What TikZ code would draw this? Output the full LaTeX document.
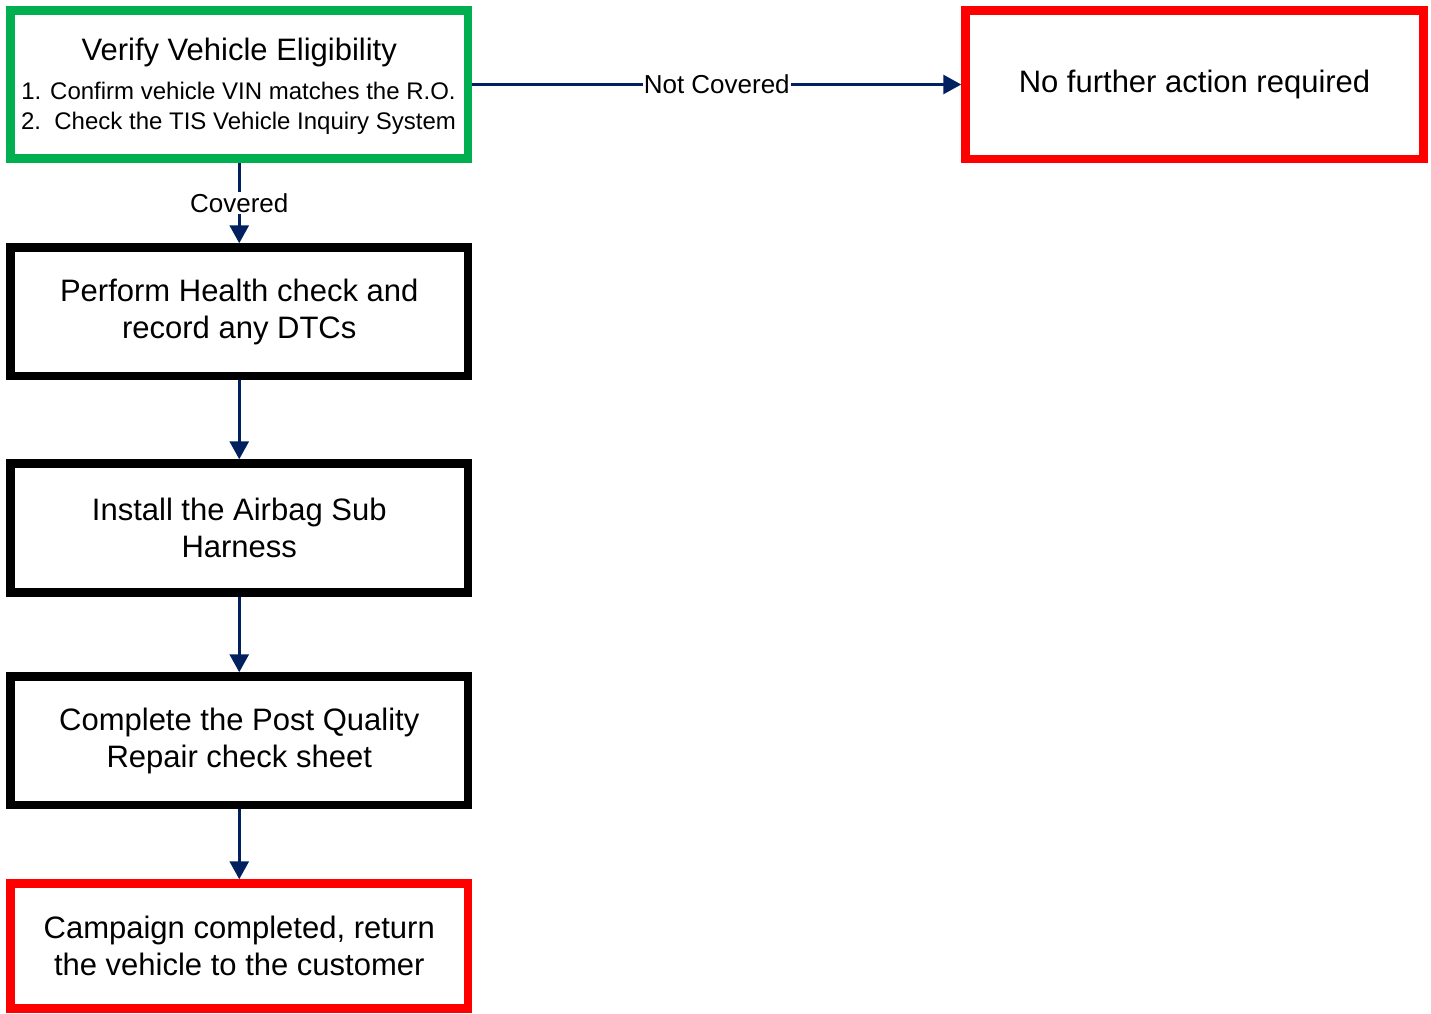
\documentclass[tikz,border=0pt]{standalone}
\usepackage{fontspec}
\setmainfont{Liberation Sans}
\usetikzlibrary{arrows.meta,shadows}
\definecolor{boxgreen}{RGB}{0,176,80}
\definecolor{boxred}{RGB}{255,0,0}
\definecolor{navy}{RGB}{0,32,96}
\definecolor{shadowblue}{RGB}{226,233,246}
\tikzset{
  box/.style={draw, line width=8.5pt, fill=white, minimum width=457.5pt, inner sep=0pt,
    align=center, font=\fontsize{31}{37.5}\selectfont,
    drop shadow={shadow xshift=3pt, shadow yshift=-4pt, fill=shadowblue, opacity=1}},
  greenbox/.style={box, draw=boxgreen},
  redbox/.style={box, draw=boxred},
  blackbox/.style={box, draw=black},
  conn/.style={draw=navy, line width=3pt, -{Triangle[length=18pt,width=19pt]}},
  lbl/.style={fill=white, inner sep=1pt, font=\fontsize{26}{30}\selectfont},
}
\begin{document}
\begin{tikzpicture}[x=1pt,y=-1pt]
\useasboundingbox (0,0) rectangle (1431,1013);
% boxes
\node[greenbox, minimum height=148pt] (verify) at (239.25,84.5) {};
\node[anchor=base, font=\fontsize{31}{31}\selectfont] (vt) at (239.25,60) {Verify Vehicle Eligibility};
\node[anchor=base, font=\fontsize{24}{24}\selectfont] (v1) at (238.5,99) {1. Confirm vehicle VIN matches the R.O.};
\node[anchor=base, font=\fontsize{24}{24}\selectfont] (v2) at (238.5,129) {2.\ \ Check the TIS Vehicle Inquiry System};

\node[redbox, minimum width=458pt, minimum height=148.5pt] (nofurther) at (1194.5,84.75) {No further action required};

\node[blackbox, minimum height=128.5pt] (health) at (239.25,311.75) {Perform Health check and\\record any DTCs};
\node[blackbox, minimum height=129pt] (install) at (239.25,528) {Install the Airbag Sub\\Harness};
\node[blackbox, minimum height=128.5pt] (postq) at (239.25,740.75) {Complete the Post Quality\\Repair check sheet};
\node[redbox, minimum height=125pt] (done) at (239.25,946) {Campaign completed, return\\the vehicle to the customer};

% connectors
\draw[conn] (verify.east |- 0,84.5) -- node[lbl] (nc) {Not Covered} (nofurther.west |- 0,84.5);
\draw[conn] (verify.south) -- node[lbl] (cv) {Covered} (health.north);
\draw[conn] (health.south) -- (install.north);
\draw[conn] (install.south) -- (postq.north);
\draw[conn] (postq.south) -- (done.north);
\end{tikzpicture}
\end{document}
